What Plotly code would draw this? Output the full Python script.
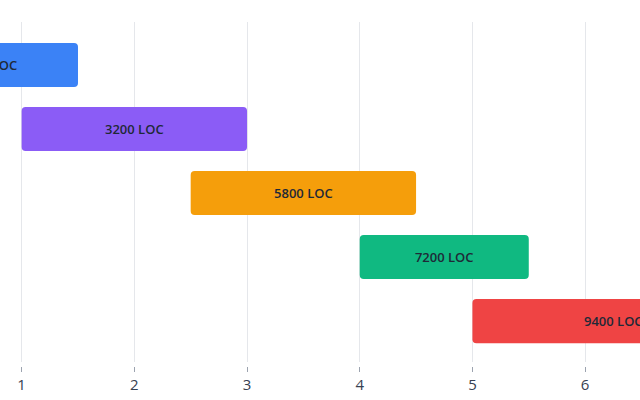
import plotly.graph_objects as go

categories = ["Phase 1", "Phase 2", "Phase 3", "Phase 4", "Phase 5"]
starts = [-0.1, 1, 2.5, 4, 5]
ends = [1.5, 3, 4.5, 5.5, 7.5]
loc_labels = ["1500 LOC", "3200 LOC", "5800 LOC", "7200 LOC", "9400 LOC"]
colors = ["#3b82f6", "#8b5cf6", "#f59e0b", "#10b981", "#ef4444"]
tick_values = [1, 2, 3, 4, 5, 6]

durations = [e - s for s, e in zip(starts, ends)]

fig = go.Figure(
    go.Bar(
        y=categories,
        x=durations,
        base=starts,
        orientation="h",
        width=0.69,
        marker=dict(color=colors, cornerradius=4, line=dict(width=0)),
        text=loc_labels,
        textposition="inside",
        insidetextanchor="middle",
        constraintext="none",
        textfont=dict(family="Open Sans", size=13, color="#1f2937", weight=600),
        hoverinfo="skip",
    )
)

fig.update_layout(
    width=640,
    height=400,
    margin=dict(l=0, r=0, t=22, b=34),
    paper_bgcolor="white",
    plot_bgcolor="white",
    showlegend=False,
    font=dict(family="Open Sans", color="#374151"),
    xaxis=dict(
        range=[0.808, 6.487],
        tickvals=tick_values,
        showgrid=True,
        gridcolor="#e5e7eb",
        gridwidth=1,
        zeroline=False,
        showline=False,
        ticks="outside",
        ticklen=5,
        tickcolor="#9ca3af",
        tickfont=dict(size=15, color="#374151"),
        anchor="free",
        position=0,
    ),
    yaxis=dict(
        domain=[0.0116, 1],
        range=[4.64, -0.672],
        showticklabels=False,
        showgrid=False,
        zeroline=False,
        showline=False,
        ticks="",
    ),
)

fig.write_html(
    "out.html",
    config={"displayModeBar": False},
    post_script="document.body.style.margin='0';document.body.style.overflow='hidden';",
)
